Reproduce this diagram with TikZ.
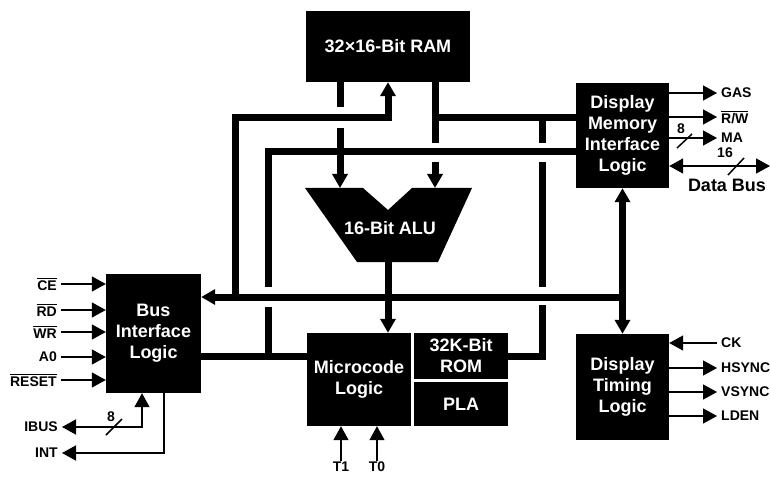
\documentclass[tikz,border=0pt]{standalone}
\usepackage{fontspec}
\setmainfont{Liberation Sans}
\usetikzlibrary{arrows.meta}
\newcommand{\barsig}[1]{\vbox{\hrule height 1.2pt\kern 1.2pt\hbox{#1}}}

\begin{document}
\begin{tikzpicture}[x=1pt, y=-1pt, >={Triangle[length=14pt,width=15pt]},
    blk/.style={fill=black, text=white, font=\fontsize{18}{21}\selectfont\bfseries, align=center, inner sep=0pt},
    bus/.style={line width=7pt},
    sig/.style={line width=1.5pt},
    lbl/.style={font=\fontsize{14}{16}\selectfont\bfseries, inner xsep=4pt, inner ysep=1pt}]
    \useasboundingbox[fill=white] (0,0) rectangle (770,478);

    % Blocks
    \node[blk, minimum width=164pt, minimum height=71pt] (ram) at (388,46.5) {32×16-Bit RAM};
    \node[blk, minimum width=95pt, minimum height=119pt] (bil) at (153.5,333.5) {Bus\\Interface\\Logic};
    \node[blk, minimum width=104pt, minimum height=93pt] (mcl) at (359,379.5) {Microcode\\Logic};
    \node[blk, minimum width=94pt, minimum height=46pt] (rom) at (461,356) {32K-Bit\\ROM};
    \node[blk, minimum width=94pt, minimum height=44pt] (pla) at (461,404) {PLA};
    \node[blk, minimum width=93pt, minimum height=105pt] (dmil) at (622.5,135.5) {Display\\Memory\\Interface\\Logic};
    \node[blk, minimum width=93pt, minimum height=106pt] (dtl) at (622.5,387) {Display\\Timing\\Logic};

    % ALU
    \fill (305,188) -- (363,188) -- (388,210) -- (412,188) -- (472,188) -- (438,262) -- (357,262) -- cycle;
    \node[blk, fill=none] (alu) at (390,228) {16-Bit ALU};
    \coordinate (alul) at (340,188);
    \coordinate (alur) at (435,188);
    \coordinate (alub) at (388,262);

    % Rails
    \coordinate (ta) at (235,118);
    \coordinate (tb) at (268,152);
    \coordinate (tc) at (542,118);
    \coordinate (mb) at (622.5,297);

    % RAM ports
    \draw[bus, ->] (235,297) -- (ta) -- (388,118) -- (ram.south);
    \draw[bus] (ram.south -| alul) -- (340,107);
    \draw[bus, ->] (340,128) -- (alul);
    \draw[bus] (ram.south -| alur) -- (435,143);
    \draw[bus, ->] (435,162) -- (alur);
    \draw[bus] (435,118) -- (dmil.west |- ta);
    \draw[bus] (268,287) -- (tb) -- (dmil.west |- tb);
    \draw[bus] (268,307) -- (268,356);

    % ROM tap
    \draw[bus] (tc) -- (542,143);
    \draw[bus] (542,162) -- (542,287);
    \draw[bus] (542,305) -- (542,356) -- (rom.east);

    % Main bus
    \draw[bus, ->] (mb) -- (bil.east |- mb);
    \draw[bus, <->] (dmil.south) -- (dtl.north);
    \draw[bus, ->] (alub) -- (mcl.north -| alub);
    \draw[bus] (bil.east |- rom.east) -- (mcl.west |- rom.east);

    % Bus interface pins
    \foreach \sig/\yy in {{\barsig{CE}}/284, {\barsig{RD}}/310, {\barsig{WR}}/332, A0/357, {\barsig{RESET}}/380} {
      \node[lbl, anchor=east] (in\yy) at (61,\yy) {\sig};
      \draw[sig, ->] (in\yy.east) -- (bil.west |- in\yy.east);
    }
    \node[lbl, anchor=east] (ibus) at (62,427) {IBUS};
    \draw[sig, <->] (ibus.east) -| ([xshift=-11.5pt]bil.south);
    \draw[sig] (106,435) -- (122,419);
    \node[lbl] at (111,417) {8};
    \node[lbl, anchor=east] (int) at (62,453) {INT};
    \draw[sig, ->] ([xshift=10.5pt]bil.south) |- (int.east);

    % Display memory pins
    \foreach \sig/\yy in {GAS/93, {\barsig{R/W}}/117, MA/138} {
      \node[lbl, anchor=west] (out\yy) at (717,\yy) {\sig};
      \draw[sig, ->] (dmil.east |- out\yy.west) -- (out\yy.west);
    }
    \draw[sig] (677,148) -- (692,134);
    \node[lbl] at (681,129) {8};
    \coordinate (dbe) at (770,166);
    \draw[sig, <->] (dmil.east |- dbe) -- (dbe);
    \draw[sig] (728,175) -- (744,158);
    \node[lbl] at (725,153) {16};
    \node[font=\fontsize{18}{21}\selectfont\bfseries] (dbus) at (727,185) {Data Bus};

    % Display timing pins
    \node[lbl, anchor=west] (ck) at (717,343) {CK};
    \draw[sig, ->] (ck.west) -- (dtl.east |- ck.west);
    \foreach \sig/\yy in {HSYNC/368, VSYNC/392, LDEN/416} {
      \node[lbl, anchor=west] (out\yy) at (717,\yy) {\sig};
      \draw[sig, ->] (dtl.east |- out\yy.west) -- (out\yy.west);
    }

    % Microcode pins
    \node[lbl, anchor=north] (t1) at (341,461) {T1};
    \draw[sig, ->] (t1.north) -- (mcl.south -| t1.north);
    \node[lbl, anchor=north] (t0) at (377,461) {T0};
    \draw[sig, ->] (t0.north) -- (mcl.south -| t0.north);
  \end{tikzpicture}
\end{document}
